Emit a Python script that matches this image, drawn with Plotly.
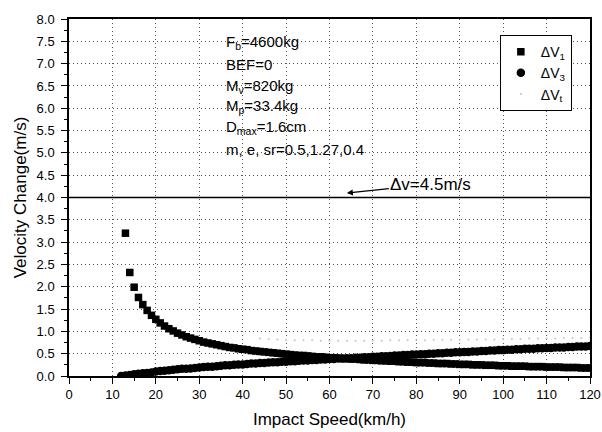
import plotly.graph_objects as go

# ---- data ----
speed_v1 = list(range(13, 121))
dv1 = [3.20, 2.32, 1.99, 1.76, 1.60, 1.47, 1.36, 1.27, 1.19, 1.12,
       1.06, 1.01, 0.96, 0.92, 0.88, 0.85, 0.82, 0.79, 0.76, 0.74,
       0.72, 0.70, 0.68, 0.66, 0.64, 0.63, 0.61, 0.60, 0.59, 0.57,
       0.56, 0.55, 0.54, 0.53, 0.52, 0.51, 0.50, 0.49, 0.48, 0.47,
       0.46, 0.46, 0.45, 0.44, 0.43, 0.43, 0.42, 0.41, 0.41, 0.40,
       0.39, 0.39, 0.38, 0.38, 0.37, 0.36, 0.36, 0.35, 0.35, 0.34,
       0.34, 0.33, 0.33, 0.32, 0.32, 0.31, 0.31, 0.30, 0.30, 0.30,
       0.29, 0.29, 0.28, 0.28, 0.28, 0.27, 0.27, 0.26, 0.26, 0.26,
       0.25, 0.25, 0.25, 0.24, 0.24, 0.24, 0.23, 0.23, 0.23, 0.22,
       0.22, 0.22, 0.22, 0.21, 0.21, 0.21, 0.21, 0.20, 0.20, 0.20,
       0.20, 0.19, 0.19, 0.19, 0.19, 0.18, 0.18, 0.18]

speed_v3 = list(range(12, 121))
dv3 = [0.00, 0.01, 0.02, 0.04, 0.05, 0.06, 0.07, 0.08, 0.10, 0.11,
       0.12, 0.13, 0.14, 0.15, 0.16, 0.16, 0.17, 0.18, 0.19, 0.20,
       0.21, 0.21, 0.22, 0.23, 0.24, 0.24, 0.25, 0.26, 0.26, 0.27,
       0.28, 0.28, 0.29, 0.29, 0.30, 0.31, 0.31, 0.32, 0.32, 0.33,
       0.33, 0.34, 0.35, 0.35, 0.36, 0.36, 0.37, 0.37, 0.38, 0.38,
       0.39, 0.39, 0.40, 0.40, 0.41, 0.41, 0.42, 0.42, 0.43, 0.43,
       0.44, 0.44, 0.45, 0.46, 0.46, 0.47, 0.47, 0.48, 0.48, 0.49,
       0.49, 0.50, 0.50, 0.51, 0.51, 0.52, 0.52, 0.53, 0.53, 0.54,
       0.54, 0.55, 0.55, 0.56, 0.56, 0.57, 0.57, 0.58, 0.58, 0.59,
       0.59, 0.60, 0.60, 0.61, 0.61, 0.61, 0.62, 0.62, 0.63, 0.63,
       0.64, 0.64, 0.64, 0.65, 0.65, 0.66, 0.66, 0.66, 0.67]

speed_vt = list(range(44, 121, 2))
dvt = [0.84, 0.83, 0.82, 0.81, 0.80, 0.80, 0.80, 0.79, 0.79, 0.79,
       0.79, 0.79, 0.79, 0.79, 0.79, 0.80, 0.80, 0.80, 0.80, 0.80,
       0.81, 0.81, 0.81, 0.81, 0.82, 0.82, 0.82, 0.82, 0.83, 0.83,
       0.83, 0.84, 0.84, 0.84, 0.84, 0.85, 0.85, 0.85, 0.86]

limit_x = [0, 120]
limit_y = [4.0, 4.0]

param_lines = ["F<sub>b</sub>=4600kg", "BEF=0", "M<sub>v</sub>=820kg",
               "M<sub>p</sub>=33.4kg", "D<sub>max</sub>=1.6cm",
               "m, e, sr=0.5,1.27,0.4"]
param_y = [7.47, 6.98, 6.49, 6.03, 5.56, 5.07]

FONT = "Arial, Liberation Sans, sans-serif"

fig = go.Figure()
fig.add_trace(go.Scatter(x=limit_x, y=limit_y, mode="lines",
                         line=dict(color="black", width=1.6),
                         showlegend=False, hoverinfo="skip"))
fig.add_trace(go.Scatter(x=speed_vt, y=dvt, mode="markers", name="ΔV<sub>t</sub>",
                         marker=dict(symbol="circle", size=2, color="#c4c4c4")))
fig.add_trace(go.Scatter(x=speed_v3, y=dv3, mode="markers", name="ΔV<sub>3</sub>",
                         marker=dict(symbol="circle", size=8.5, color="black")))
fig.add_trace(go.Scatter(x=speed_v1, y=dv1, mode="markers", name="ΔV<sub>1</sub>",
                         marker=dict(symbol="square", size=7.5, color="black")))

anns = []
for t, yv in zip(param_lines, param_y):
    anns.append(dict(x=35.6, y=yv, xref="x", yref="y", text=t, showarrow=False,
                     xanchor="left", yanchor="middle",
                     font=dict(family=FONT, size=15, color="black")))
anns.append(dict(x=64, y=4.1, xref="x", yref="y", text="Δv=4.5m/s",
                 showarrow=True, ax=84, ay=-9, arrowhead=2, arrowsize=1,
                 arrowwidth=1.2, arrowcolor="black",
                 font=dict(family=FONT, size=17, color="black")))

fig.update_layout(
    width=602, height=432,
    margin=dict(l=69, r=12, t=19, b=56),
    paper_bgcolor="white", plot_bgcolor="white",
    font=dict(family=FONT, size=12, color="black"),
    annotations=anns,
    legend=dict(x=0.827, y=0.955, xanchor="left", yanchor="top",
                traceorder="reversed",
                bordercolor="black", borderwidth=1, bgcolor="white",
                font=dict(family=FONT, size=14), itemwidth=30,
                tracegroupgap=0),
)
grid_style = dict(showgrid=True, gridcolor="#555", griddash="1px,3px", gridwidth=1)
fig.update_xaxes(range=[0, 120], dtick=10, tick0=0, automargin=False,
                 showline=True, linecolor="black", linewidth=1.5, mirror=True,
                 ticks="outside", ticklen=6, tickwidth=1.2, tickcolor="black",
                 minor=dict(dtick=5, ticks="outside", ticklen=3, tickcolor="black", showgrid=False),
                 zeroline=False,
                 title=dict(text="Impact Speed(km/h)", font=dict(family=FONT, size=17), standoff=12),
                 tickfont=dict(family=FONT, size=13), **grid_style)
fig.update_yaxes(range=[0, 8], dtick=0.5, tick0=0, tickformat=".1f", automargin=False,
                 showline=True, linecolor="black", linewidth=1.5, mirror=True,
                 ticks="outside", ticklen=6, tickwidth=1.2, tickcolor="black",
                 ticklabelstandoff=4,
                 minor=dict(dtick=0.25, ticks="outside", ticklen=3, tickcolor="black", showgrid=False),
                 zeroline=False,
                 title=dict(text="Velocity Change(m/s)", font=dict(family=FONT, size=17), standoff=6),
                 tickfont=dict(family=FONT, size=13), **grid_style)

# remove the page's default 8px body margin so the 602x432 figure fills the window
fig.write_html("out.html", config={"displayModeBar": False},
               post_script="document.body.style.margin='0px';")
